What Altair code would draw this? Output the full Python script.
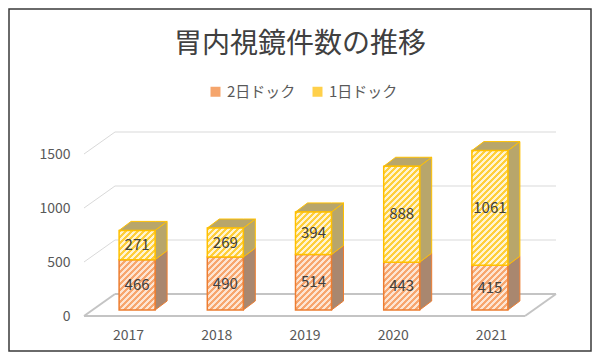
import json
import altair as alt
import pandas as pd

# ---------------- data ----------------
years = ["2017", "2018", "2019", "2020", "2021"]
series = ["2日ドック", "1日ドック"]
two_day = [466, 490, 514, 443, 415]
one_day = [271, 269, 394, 888, 1061]
y_ticks = [0, 500, 1000, 1500]
title_text = "胃内視鏡件数の推移"

# ---------------- style / geometry ----------------
FONT = "Noto Sans CJK JP"
TEXT_GRAY = "#595959"
W, H = 441, 162
X_DOMAIN = [-0.5, len(years) - 0.5]
Y_DOMAIN = [y_ticks[0], y_ticks[-1]]
PX_X = W / (X_DOMAIN[1] - X_DOMAIN[0])
PX_Y = H / (Y_DOMAIN[1] - Y_DOMAIN[0])


def ux(px):
    return px / PX_X


def uy(px):
    return px / PX_Y


FLOOR_DX, FLOOR_DY = ux(31), uy(22)      # depth of the floor / walls
SHIFT_X, SHIFT_Y = ux(9), uy(6)          # bars sit half way back
HALF_PX = 18
HALF = ux(HALF_PX)
DEPTH_X, DEPTH_Y = ux(12), uy(9)         # depth of each bar

STYLE = {
    "2日ドック": dict(stripe="#f7a66e", bg="#fde5d3", line="#ed7d31",
                   side="#a9876f", legend="#f5a56c"),
    "1日ドック": dict(stripe="#ffcf3a", bg="#fff4d2", line="#ffc000",
                   side="#b8a66b", legend="#ffd04a"),
}

xs = alt.Scale(domain=X_DOMAIN, nice=False, zero=False)
ys = alt.Scale(domain=Y_DOMAIN, nice=False, zero=False)

x_axis = alt.Axis(
    values=list(range(len(years))),
    labelExpr=json.dumps(years) + "[datum.value]",
    domain=False, ticks=False, grid=False, title=None,
    labelPadding=12, labelFont=FONT, labelFontSize=14, labelColor=TEXT_GRAY,
    labelOffset={"condition": {"test": "datum.value == 4", "value": 10}, "value": 0},
)
y_axis = alt.Axis(
    values=y_ticks, format="d", domain=False, ticks=False, grid=False, title=None,
    labelPadding=14, labelFont=FONT, labelFontSize=14, labelColor=TEXT_GRAY,
)


def X(f):
    return alt.X(f"{f}:Q", scale=xs, axis=x_axis)


def Y(f):
    return alt.Y(f"{f}:Q", scale=ys, axis=y_axis, stack=None)


def hatch(w, h, stripe, bg, period=6.0):
    L = w + h
    stops = []
    pos = 0.0
    while pos < L - 1e-9:
        a = pos / L
        b = min((pos + period / 2) / L, 1.0)
        c = min((pos + period) / L, 1.0)
        stops += [
            {"offset": a, "color": stripe},
            {"offset": b, "color": stripe},
            {"offset": b, "color": bg},
            {"offset": c, "color": bg},
        ]
        pos += period
    s = (w + h) / (w * w + h * h)
    return {"gradient": "linear", "x1": 0, "y1": 0, "x2": w * s, "y2": h * s,
            "stops": stops}


# ---------------- walls / floor ----------------
grid_rows, floor_rows = [], []
x0, x1 = X_DOMAIN
for v in y_ticks[1:]:
    grid_rows.append(dict(x=x0, x2=x0 + FLOOR_DX, y=v, y2=v + FLOOR_DY))
    grid_rows.append(dict(x=x0 + FLOOR_DX, x2=x1 + FLOOR_DX,
                          y=v + FLOOR_DY, y2=v + FLOOR_DY))
z = y_ticks[0]
floor_rows += [
    dict(x=x0, x2=x1, y=z, y2=z),
    dict(x=x0 + FLOOR_DX, x2=x1 + FLOOR_DX, y=z + FLOOR_DY, y2=z + FLOOR_DY),
    dict(x=x0, x2=x0 + FLOOR_DX, y=z, y2=z + FLOOR_DY),
    dict(x=x1, x2=x1 + FLOOR_DX, y=z, y2=z + FLOOR_DY),
]

grid = alt.Chart(pd.DataFrame(grid_rows)).mark_rule(
    color="#d9d9d9", strokeWidth=1
).encode(x=X("x"), x2="x2:Q", y=Y("y"), y2="y2:Q")

floor = alt.Chart(pd.DataFrame(floor_rows)).mark_rule(
    color="#c4c4c4", strokeWidth=2
).encode(x=X("x"), x2="x2:Q", y=Y("y"), y2="y2:Q")

# ---------------- bar segments ----------------
segs = []
for i, yr in enumerate(years):
    lo = 0
    for s, vals in zip(series, [two_day, one_day]):
        v = vals[i]
        segs.append(dict(year=yr, series=s, i=i, v=v,
                         x=i + SHIFT_X - HALF, x2=i + SHIFT_X + HALF,
                         xc=i + SHIFT_X,
                         y=SHIFT_Y + lo, y2=SHIFT_Y + lo + v,
                         ym=SHIFT_Y + lo + v / 2))
        lo += v
seg_df = pd.DataFrame(segs)

# side faces
side_layers = []
for s in series:
    rows = []
    for k, g in enumerate(segs):
        if g["series"] != s:
            continue
        rows.append(dict(id=k, x=g["x2"], y=g["y"], y2=g["y2"]))
        rows.append(dict(id=k, x=g["x2"] + DEPTH_X, y=g["y"] + DEPTH_Y,
                         y2=g["y2"] + DEPTH_Y))
    side_layers.append(
        alt.Chart(pd.DataFrame(rows)).mark_area(
            orient="vertical", color=STYLE[s]["side"],
            stroke=STYLE[s]["line"], strokeWidth=1, strokeJoin="round"
        ).encode(x=X("x"), y=Y("y"), y2="y2:Q", detail="id:N")
    )

# top faces (top of each stack)
top_rows = []
for i, yr in enumerate(years):
    T = SHIFT_Y + two_day[i] + one_day[i]
    a, b = i + SHIFT_X - HALF, i + SHIFT_X + HALF
    top_rows += [
        dict(id=i, x=a, y=T, y2=T),
        dict(id=i, x=a + DEPTH_X, y=T, y2=T + DEPTH_Y),
        dict(id=i, x=b, y=T, y2=T + DEPTH_Y),
        dict(id=i, x=b + DEPTH_X, y=T + DEPTH_Y, y2=T + DEPTH_Y),
    ]
top_st = STYLE[series[-1]]
top = alt.Chart(pd.DataFrame(top_rows)).mark_area(
    orient="vertical", color=top_st["side"], stroke=top_st["line"],
    strokeWidth=1, strokeJoin="round"
).encode(x=X("x"), y=Y("y"), y2="y2:Q", detail="id:N")

# base front faces (carry the legend)
base = alt.Chart(seg_df).mark_rect().encode(
    x=X("x"), x2="x2:Q", y=Y("y"), y2="y2:Q",
    color=alt.Color(
        "series:N",
        scale=alt.Scale(domain=series, range=[STYLE[s]["legend"] for s in series]),
        legend=alt.Legend(
            orient="none", legendX=124, legendY=-70, direction="horizontal",
            title=None, labelFont=FONT, labelFontSize=15, labelColor=TEXT_GRAY,
            symbolType="square", symbolSize=100, symbolStrokeWidth=0,
            columnPadding=14, labelOffset=4, padding=0,
        ),
    ),
)

# hatched front faces
front_layers = []
for g in segs:
    st = STYLE[g["series"]]
    h_px = g["v"] * PX_Y
    front_layers.append(
        alt.Chart(pd.DataFrame([g])).mark_rect(
            fill=hatch(2 * HALF_PX, h_px, st["stripe"], st["bg"]),
            stroke=st["line"], strokeWidth=1.5
        ).encode(x=X("x"), x2="x2:Q", y=Y("y"), y2="y2:Q")
    )

labels = alt.Chart(seg_df).mark_text(
    font=FONT, fontSize=15, color="#404040"
).encode(x=X("xc"), y=Y("ym"), text=alt.Text("v:Q", format="d"))

frame = alt.Chart(pd.DataFrame({"k": [0]})).mark_rect(
    fillOpacity=0, stroke="#3a3a3a", strokeWidth=1.5
).encode(x=alt.value(-75), x2=alt.value(507), y=alt.value(-145), y2=alt.value(197))

chart = alt.layer(
    frame, grid, floor, base, *side_layers, top, *front_layers, labels
).properties(
    width=W, height=H,
    padding={"left": 76, "top": 146, "right": 67, "bottom": 36},
    autosize=alt.AutoSizeParams(type="none"),
    title=alt.TitleParams(
        title_text, font=FONT, fontSize=28, fontWeight="normal",
        color="#404040", anchor="middle", baseline="middle", offset=-65,
        frame="bounds",
    ),
).configure_view(strokeWidth=0)

chart.save("out.html", embed_options={"renderer": "svg", "actions": False})
